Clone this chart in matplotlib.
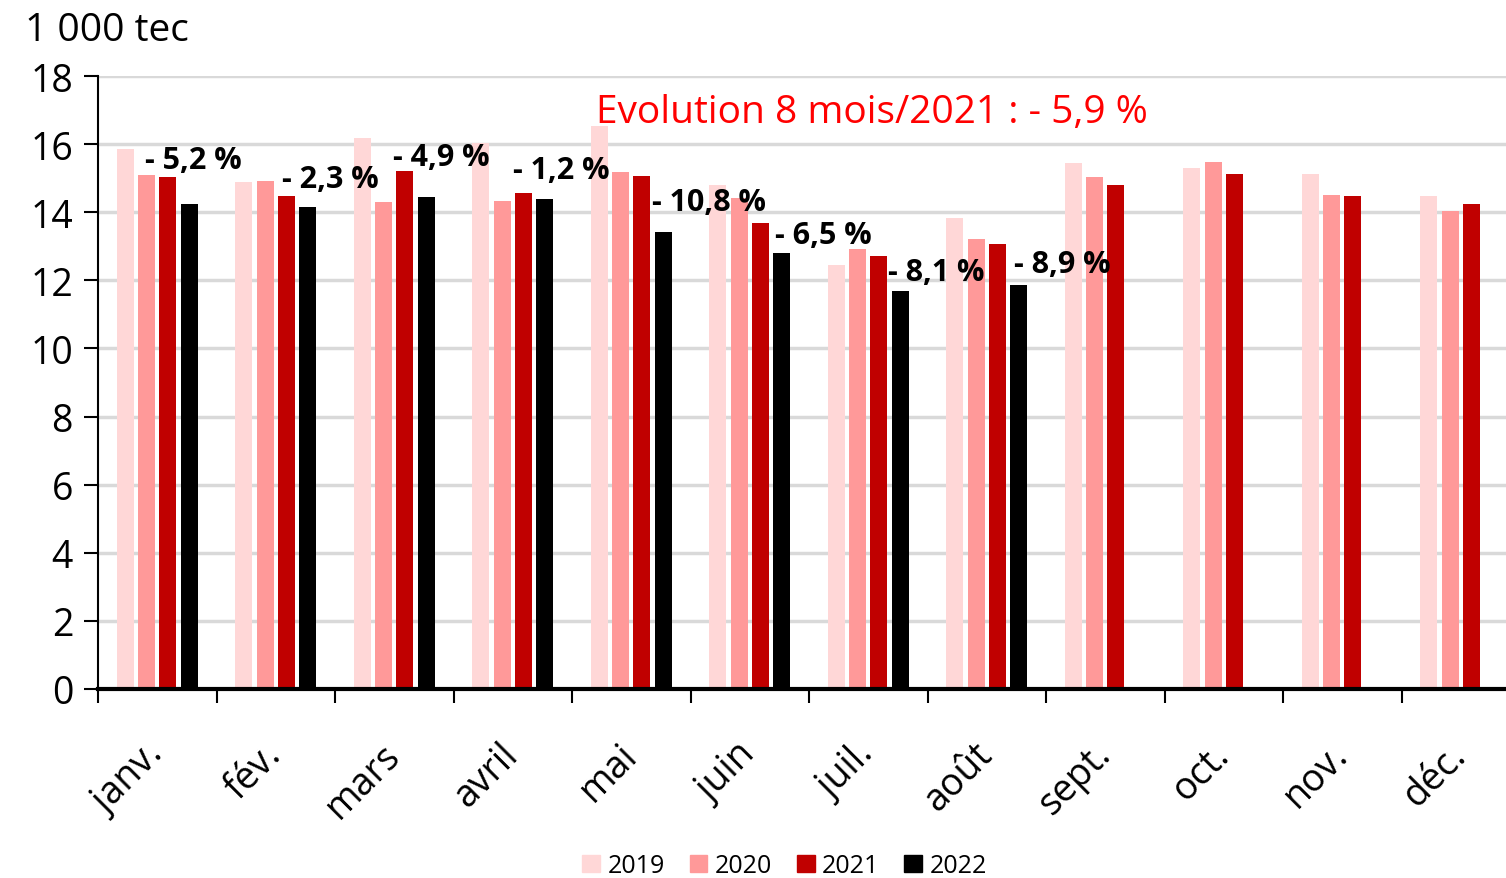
import numpy as np
import matplotlib
matplotlib.use('Agg')
import matplotlib.pyplot as plt
from matplotlib.patches import Patch

plt.rcParams['font.family'] = ['Open Sans', 'DejaVu Sans']

#%% Données (1 000 tec)
mois = ['janv.', 'fév.', 'mars', 'avril', 'mai', 'juin',
        'juil.', 'août', 'sept.', 'oct.', 'nov.', 'déc.']

v2019 = [15.85, 14.89, 16.19, 16.03, 16.53, 14.81, 12.45, 13.82, 15.46, 15.30, 15.12, 14.47]
v2020 = [15.09, 14.91, 14.29, 14.33, 15.18, 14.42, 12.92, 13.21, 15.02, 15.47, 14.51, 14.03]
v2021 = [15.02, 14.47, 15.20, 14.56, 15.05, 13.68, 12.71, 13.06, 14.79, 15.12, 14.48, 14.24]
v2022 = [14.23, 14.14, 14.44, 14.39, 13.43, 12.79, 11.69, 11.86]

evol = ['- 5,2 %', '- 2,3 %', '- 4,9 %', '- 1,2 %', '- 10,8 %',
        '- 6,5 %', '- 8,1 %', '- 8,9 %']
evol_total = 'Evolution 8 mois/2021 : - 5,9 %'

# position des étiquettes (décalage x par rapport au centre du mois, y en 1 000 tec)
lab_dx = [-0.103, 0.049, -0.011, 0.006, 0.175, 0.217, 0.167, 0.226]
lab_y = [15.53, 14.97, 15.62, 15.24, 14.30, 13.33, 12.24, 12.47]

colores = ['#ffd7d7', '#ff9999', '#c00000', '#000000']
anios = ['2019', '2020', '2021', '2022']

#%% Gráfico
fig = plt.figure(figsize=(15.06, 8.79), dpi=100)
ax = fig.add_axes([98/1506, (879-690)/879, 1422/1506, (690-77)/879])

ancho = 0.143
paso = 0.18
xx = np.arange(len(mois))
series = [v2019, v2020, v2021, v2022]
for k, vals in enumerate(series):
    pos = xx[:len(vals)] + (k - 1.5)*paso
    ax.bar(pos, vals, width=ancho, color=colores[k], zorder=3)

for i, txt in enumerate(evol):
    ax.text(i + lab_dx[i], lab_y[i], txt, fontsize=22, fontweight='bold',
            ha='left', va='center', zorder=4)

ax.text(3.70, 16.95, evol_total, color='#ff0000', fontsize=28, ha='left', va='center')

ax.set_xlim(-0.5, 11.5)
ax.set_ylim(0, 18)
ax.set_yticks(np.arange(0, 19, 2))
ax.grid(axis='y', color='#d9d9d9', linewidth=2.5, zorder=0)

ax.set_xticks(np.arange(len(mois) + 1) - 0.5)
ax.set_xticklabels([])
ax.set_xticks(xx, minor=True)
ax.set_xticklabels(mois, minor=True)
ax.tick_params(axis='x', which='major', length=10, width=1.5, direction='out')
ax.tick_params(axis='x', which='minor', length=0, pad=43, labelsize=27)
plt.setp(ax.get_xticklabels(minor=True), rotation=45, ha='right', va='center',
         rotation_mode='anchor')
ax.tick_params(axis='y', length=10, width=1.5, labelsize=27, pad=8)

for s in ['top', 'right']:
    ax.spines[s].set_visible(False)
ax.spines['left'].set_linewidth(1.5)
ax.spines['bottom'].set_linewidth(3)
ax.spines['bottom'].set_zorder(5)

fig.text(25/1506, 1 - 31/879, '1 000 tec', fontsize=28, ha='left', va='center')

handles = [Patch(color=c) for c in colores]
fig.legend(handles, anios, loc='center', bbox_to_anchor=(0.521, 0.014), ncol=4,
           frameon=False, fontsize=18, handlelength=0.7, handleheight=0.7,
           handletextpad=0.3, columnspacing=1.0)

fig.savefig('out.png', dpi=100)
